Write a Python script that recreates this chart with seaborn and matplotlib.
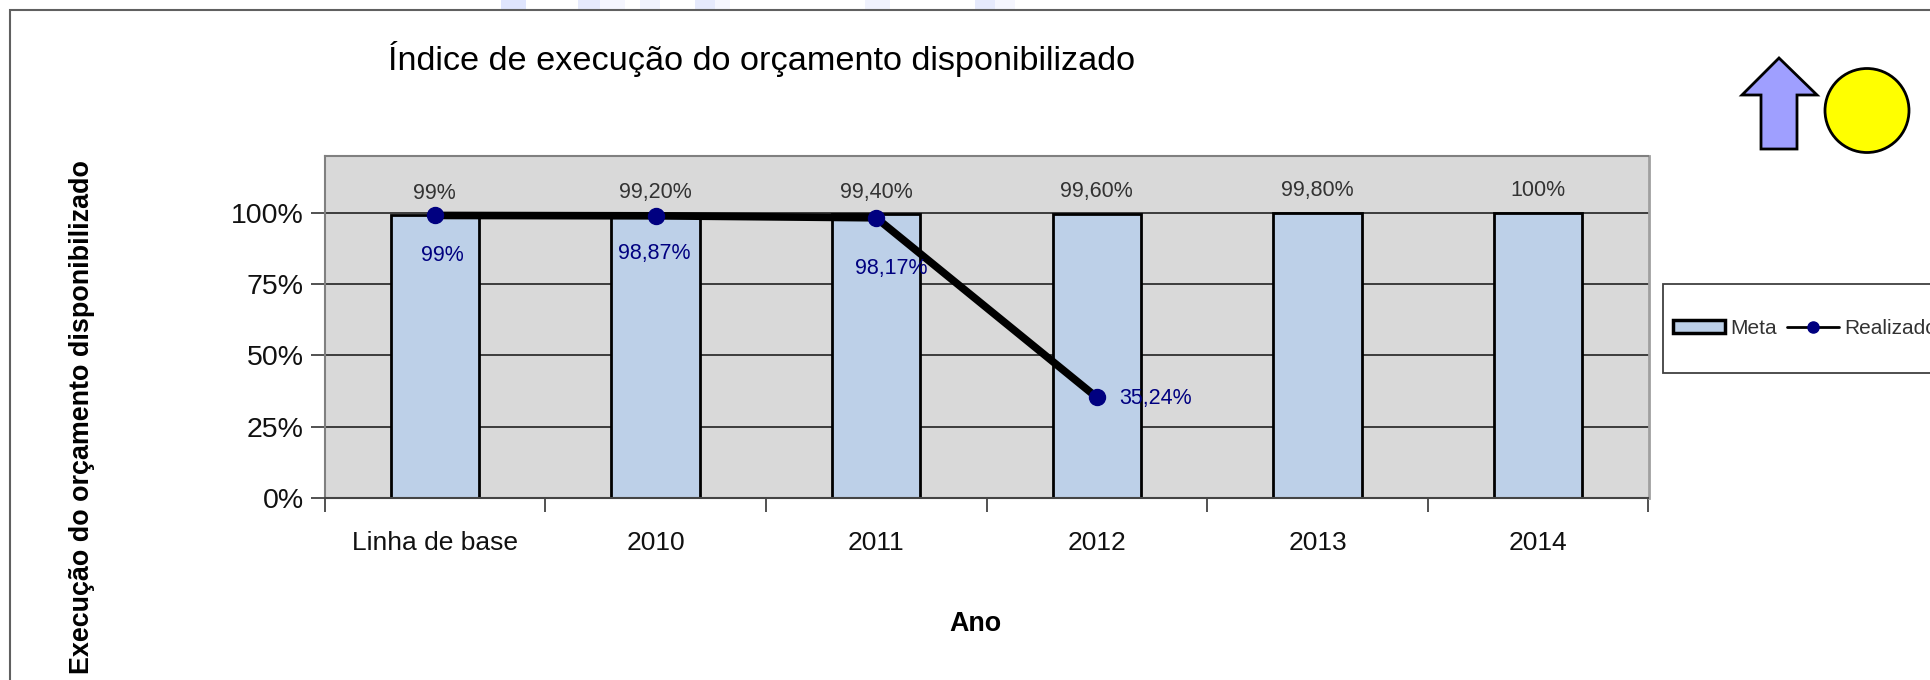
import matplotlib
matplotlib.use("Agg")
import matplotlib.pyplot as plt
import seaborn as sns
from matplotlib.lines import Line2D
from matplotlib.patches import Circle, Patch, Polygon, Rectangle

# dados do grafico
categorias = ["Linha de base", "2010", "2011", "2012", "2013", "2014"]
meta = [99, 99.2, 99.4, 99.6, 99.8, 100]
meta_labels = ["99%", "99,20%", "99,40%", "99,60%", "99,80%", "100%"]
anos_real = ["Linha de base", "2010", "2011", "2012"]
realizado = [99, 98.87, 98.17, 35.24]
real_labels = ["99%", "98,87%", "98,17%", "35,24%"]
yticks = [0, 25, 50, 75, 100]
ytick_labels = ["0%", "25%", "50%", "75%", "100%"]

W, H = 1930, 680

sns.set_theme(style="white")
plt.rcParams["font.family"] = ["Liberation Sans", "DejaVu Sans"]

fig = plt.figure(figsize=(W / 100, H / 100), dpi=100, facecolor="white")
ax = fig.add_axes([324.5 / W, 1 - 498 / H, (1648.5 - 324.5) / W, (498 - 155.5) / H])
ax.set_facecolor("#d9d9d9")

# barras da meta e linha do realizado
sns.barplot(x=categorias, y=meta, width=0.4, color="#bdd0e8", saturation=1,
            edgecolor="black", linewidth=2, ax=ax, zorder=2)
sns.lineplot(x=anos_real, y=realizado, sort=False, color="black", linewidth=5.5,
             ax=ax, zorder=3)
ax.plot(anos_real, realizado, ls="none", marker="o", ms=11.5, color="#000080",
        mec="#000080", zorder=4)

ax.set_xlim(-0.5, 5.5)
ax.set_ylim(0, 120)
ax.set_yticks(yticks)
ax.set_yticklabels(ytick_labels, fontsize=20.5, color="#111111")
ax.yaxis.grid(True, color="#222222", lw=1.2, zorder=1)
ax.set_axisbelow(True)
ax.tick_params(axis="y", left=True, length=10, width=1.2, color="#333333", pad=5)
ax.set_xticks(range(6))
ax.set_xticklabels(categorias, fontsize=19, color="#111111")
ax.tick_params(axis="x", which="major", bottom=False, pad=18)
ax.set_xticks([i - 0.5 for i in range(7)], minor=True)
ax.tick_params(axis="x", which="minor", bottom=True, length=10, width=1.2, color="#333333")

for s in ["top", "left"]:
    ax.spines[s].set_color("#808080")
    ax.spines[s].set_linewidth(1.5)
ax.spines["right"].set_color("#a0a0a0")
ax.spines["right"].set_linewidth(2)
ax.spines["bottom"].set_color("#444444")
ax.spines["bottom"].set_linewidth(1.5)

# rotulos
for i, txt in enumerate(meta_labels):
    ax.annotate(txt, (i, meta[i]), xytext=(0, 16), textcoords="offset points",
                ha="center", va="center", fontsize=15.5, color="#333333", zorder=6)
real_off = [(5.5, -29), (-1, -27), (11, -36.5), (42, -1)]
for i, txt in enumerate(real_labels):
    ax.annotate(txt, (i, realizado[i]), xytext=real_off[i], textcoords="offset points",
                ha="center", va="center", fontsize=15.5, color="#000080", zorder=6)

# titulos
fig.text(388 / W, 1 - 59 / H, "Índice de execução do orçamento disponibilizado",
         fontsize=24.7, ha="left", va="center", color="black")
fig.text(975 / W, 1 - 624 / H, "Ano", fontsize=19.4, fontweight="bold", ha="center",
         va="center", color="black")
fig.text(82 / W, 1 - 417 / H, "Execução do orçamento disponibilizado", fontsize=19.4,
         fontweight="bold", rotation=90, ha="center", va="center", color="black")

# marca d'agua no topo da pagina
faixas = [(501, 526, "#dfe5fd"), (578, 600, "#e6eafc"), (600, 625, "#f5f6fe"),
          (640, 660, "#f0f2fd"), (695, 715, "#e6eafc"), (715, 730, "#f5f6fe"),
          (865, 890, "#f0f2fd"), (975, 995, "#e6eafc"), (995, 1015, "#f5f6fe")]
for x0, x1, cor in faixas:
    fig.add_artist(Rectangle((x0 / W, 1 - 10 / H), (x1 - x0) / W, 10 / H, fc=cor,
                             ec="none", transform=fig.transFigure))

# moldura externa e da legenda
fig.add_artist(Rectangle((10 / W, 1 - 700 / H), 2000 / W, 690 / H, fill=False,
                         ec="#606060", lw=1.5, transform=fig.transFigure))
fig.add_artist(Rectangle((1663 / W, 1 - 373 / H), 320 / W, 89 / H, fc="white",
                         ec="#404040", lw=1.3, transform=fig.transFigure))
handles = [Patch(fc="#bdd0e8", ec="black", lw=2.5),
           Line2D([], [], color="black", lw=2, marker="o", ms=8, mfc="#000080", mec="#000080")]
fig.legend(handles, ["Meta", "Realizado"], ncol=2, frameon=False, fontsize=15,
           loc="center left", bbox_to_anchor=(1654 / W, 1 - 328 / H), labelcolor="#333333",
           handlelength=2.5, handleheight=0.6, handletextpad=0.25, columnspacing=0.5)

# seta e circulo de status
fig.add_artist(Polygon([(1779 / W, 1 - 58 / H), (1817 / W, 1 - 95 / H), (1797 / W, 1 - 95 / H),
                        (1797 / W, 1 - 149 / H), (1761 / W, 1 - 149 / H), (1761 / W, 1 - 95 / H),
                        (1742 / W, 1 - 95 / H)], fc="#9f9fff", ec="black", lw=2,
                       transform=fig.transFigure))
fig.add_artist(Circle((1867, H - 110.5), 42, fc="#ffff00", ec="black", lw=2, transform=None))

fig.savefig("out.png", dpi=100)
